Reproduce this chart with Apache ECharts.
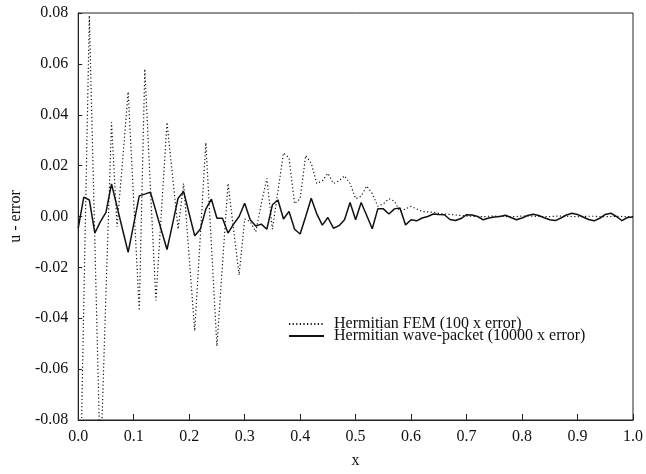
<!DOCTYPE html>
<html>
<head>
<meta charset="utf-8">
<script src="https://cdn.jsdelivr.net/npm/echarts@6/dist/echarts.min.js"></script>
<style>
html,body{margin:0;padding:0;background:#fff;}
#chart{width:646px;height:474px;}
</style>
</head>
<body>
<div id="chart"></div>
<script>
var xs = [0.00,0.01,0.02,0.03,0.04,0.05,0.06,0.07,0.08,0.09,
  0.10,0.11,0.12,0.13,0.14,0.15,0.16,0.17,0.18,0.19,
  0.20,0.21,0.22,0.23,0.24,0.25,0.26,0.27,0.28,0.29,
  0.30,0.31,0.32,0.33,0.34,0.35,0.36,0.37,0.38,0.39,
  0.40,0.41,0.42,0.43,0.44,0.45,0.46,0.47,0.48,0.49,
  0.50,0.51,0.52,0.53,0.54,0.55,0.56,0.57,0.58,0.59,
  0.60,0.61,0.62,0.63,0.64,0.65,0.66,0.67,0.68,0.69,
  0.70,0.71,0.72,0.73,0.74,0.75,0.76,0.77,0.78,0.79,
  0.80,0.81,0.82,0.83,0.84,0.85,0.86,0.87,0.88,0.89,
  0.90,0.91,0.92,0.93,0.94,0.95,0.96,0.97,0.98,0.99,1.00];

var femError = [-0.15,-0.035,0.079,-0.010,-0.100,-0.030,0.037,-0.004,0.022,0.049,
  0.006,-0.037,0.058,0.012,-0.033,0.002,0.037,0.016,-0.005,0.013,
  -0.016,-0.045,-0.008,0.029,-0.011,-0.051,-0.019,0.013,-0.005,-0.023,
  -0.001,-0.002,-0.006,0.005,0.015,-0.005,0.010,0.025,0.023,0.005,
  0.007,0.024,0.021,0.013,0.014,0.017,0.013,0.014,0.016,0.013,
  0.007,0.008,0.012,0.009,0.004,0.005,0.007,0.006,0.002,0.003,
  0.004,0.003,0.002,0.0018,0.0017,0.0012,0.0010,0.0008,0.0006,0.0004,
  0.0002,0.0001,0.0000,-0.0001,0.0001,0.0002,0.0001,0.0000,-0.0001,0.0000,
  0.0002,0.0002,0.0001,0.0000,-0.0001,0.0000,0.0001,0.0002,0.0001,0.0000,
  -0.0001,0.0000,0.0001,0.0001,0.0000,-0.0001,0.0000,0.0001,0.0000,-0.0001,0.0000];

var wavePacketError = [-0.0046,0.0076,0.0065,-0.0065,-0.0020,0.0016,0.0128,0.0038,-0.0052,-0.0141,
  -0.0030,0.0081,0.0088,0.0096,0.0021,-0.0055,-0.0130,-0.0030,0.0072,0.0098,
  0.0011,-0.0076,-0.0050,0.0029,0.0068,-0.0007,-0.0007,-0.0065,-0.0030,0.0000,
  0.0052,-0.0013,-0.0037,-0.0030,-0.0050,0.0046,0.0065,-0.0010,0.0020,-0.0050,
  -0.0069,0.0000,0.0072,0.0010,-0.0034,-0.0004,-0.0046,-0.0036,-0.0013,0.0055,
  -0.0013,0.0055,0.0004,-0.0048,0.0030,0.0030,0.0010,0.0030,0.0033,-0.0033,
  -0.0013,-0.0017,-0.0006,0.0000,0.0010,0.0008,0.0007,-0.0012,-0.0016,-0.0008,
  0.0007,0.0006,0.0000,-0.0013,-0.0006,-0.0002,0.0000,0.0005,-0.0004,-0.0013,
  -0.0006,0.0004,0.0009,0.0004,-0.0005,-0.0013,-0.0016,-0.0006,0.0006,0.0013,
  0.0008,-0.0002,-0.0012,-0.0017,-0.0007,0.0008,0.0013,0.0000,-0.0016,-0.0004,-0.0002];

var seriesNames = ['Hermitian FEM (100 x error)', 'Hermitian wave-packet (10000 x error)'];

function pairs(x, y) {
  var out = [];
  for (var i = 0; i < x.length; i++) out.push([x[i], y[i]]);
  return out;
}

var FONT = 'Liberation Serif';
var chart = echarts.init(document.getElementById('chart'), null, {renderer: 'canvas'});
chart.setOption({
  animation: false,
  backgroundColor: '#ffffff',
  grid: {left: 68, right: 11, top: 13, bottom: 53, show: true, borderColor: '#222', borderWidth: 1},
  legend: {
    show: true,
    orient: 'vertical',
    left: 283,
    top: 311,
    itemWidth: 35,
    itemHeight: 10,
    itemGap: -4,
    itemStyle: {opacity: 0},
    textStyle: {fontFamily: FONT, fontSize: 16, color: '#111', padding: [0, 0, 0, 5]},
    data: seriesNames
  },
  xAxis: {
    type: 'value',
    min: 0, max: 1, interval: 0.1,
    name: 'x',
    nameLocation: 'middle',
    nameGap: 33,
    nameTextStyle: {fontFamily: FONT, fontSize: 16, color: '#111'},
    axisLine: {show: true, onZero: false, lineStyle: {color: '#222', width: 1}},
    axisTick: {show: true, inside: true, length: 6, lineStyle: {color: '#222'}},
    axisLabel: {fontFamily: FONT, fontSize: 16, color: '#111', margin: 9,
      formatter: function (v) { return v.toFixed(1); }},
    splitLine: {show: false}
  },
  yAxis: {
    type: 'value',
    min: -0.08, max: 0.08, interval: 0.02,
    name: 'u - error',
    nameLocation: 'middle',
    nameGap: 50,
    nameTextStyle: {fontFamily: FONT, fontSize: 16, color: '#111'},
    axisLine: {show: true, onZero: false, lineStyle: {color: '#222', width: 1}},
    axisTick: {show: true, inside: true, length: 4, lineStyle: {color: '#222'}},
    axisLabel: {fontFamily: FONT, fontSize: 16, color: '#111', margin: 10,
      formatter: function (v) { return v.toFixed(2); }},
    splitLine: {show: false}
  },
  series: [
    {
      name: seriesNames[0],
      type: 'line',
      data: pairs(xs, femError),
      symbol: 'none',
      clip: true,
      lineStyle: {color: '#111', width: 1.2, type: [1.2, 2.4]},
      itemStyle: {color: '#111'}
    },
    {
      name: seriesNames[1],
      type: 'line',
      data: pairs(xs, wavePacketError),
      symbol: 'none',
      clip: true,
      lineStyle: {color: '#111', width: 1.5},
      itemStyle: {color: '#111'}
    }
  ]
});
</script>
</body>
</html>
